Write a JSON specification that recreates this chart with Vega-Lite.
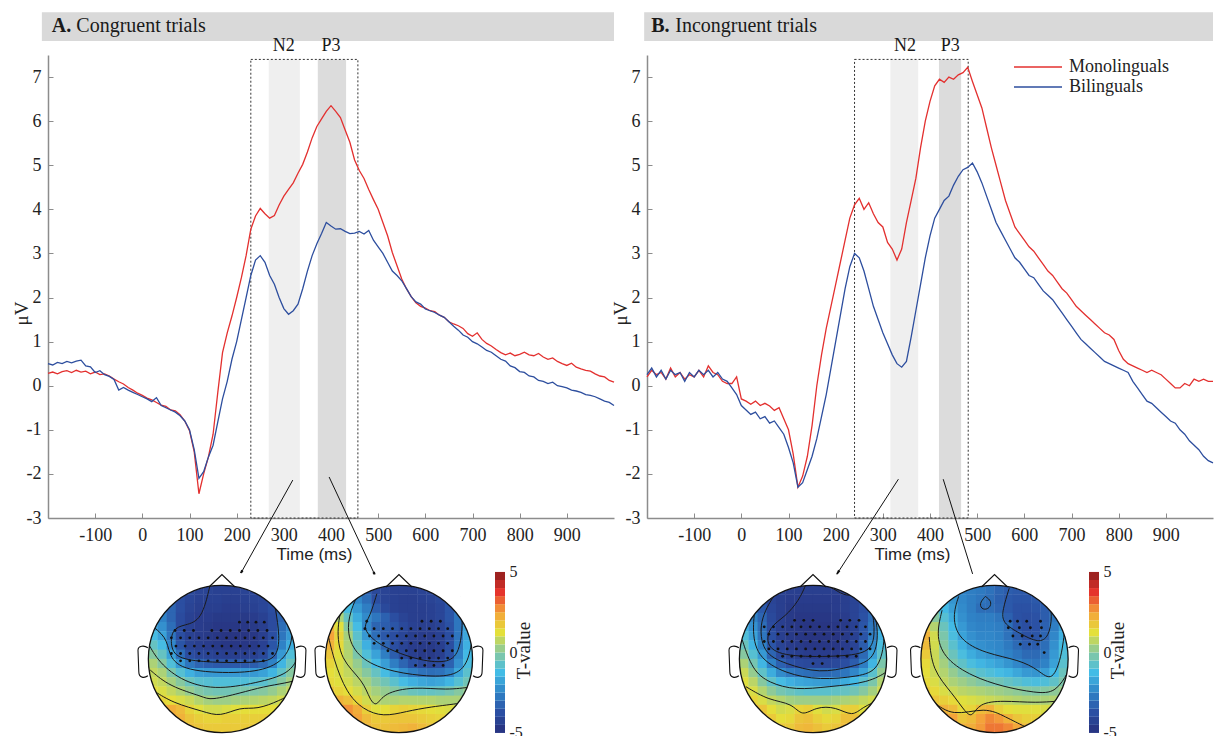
{
"$schema": "https://vega.github.io/schema/vega-lite/v6.json",
"background": "white",
"padding": {"left": 12, "top": 12, "right": 0, "bottom": 0},
"config": {"view": {"stroke": null}, "font": "Liberation Serif", "legend": {"labelFont": "Liberation Serif"}},
"datasets": {
"erp": [
{"p":"A","g":"Monolinguals","t":[-200,-190,-180,-170,-160,-150,-140,-130,-120,-110,-100,-90,-80,-70,-60,-50,-40,-30,-20,-10,0,10,20,30,40,50,60,70,80,90,100,110,120,130,140,150,160,170,180,190,200,210,220,230,240,250,260,270,280,290,300,310,320,330,340,350,360,370,380,390,400,410,420,430,440,450,460,470,480,490,500,510,520,530,540,550,560,570,580,590,600,610,620,630,640,650,660,670,680,690,700,710,720,730,740,750,760,770,780,790,800,810,820,830,840,850,860,870,880,890,900,910,920,930,940,950,960,970,980,990,1000],
"v":[0.28,0.31,0.27,0.32,0.34,0.30,0.35,0.31,0.33,0.27,0.31,0.25,0.27,0.22,0.15,0.09,0.04,-0.04,-0.10,-0.17,-0.22,-0.28,-0.32,-0.38,-0.44,-0.47,-0.55,-0.57,-0.66,-0.80,-1.02,-1.50,-2.45,-2.00,-1.62,-1.10,-0.15,0.75,1.20,1.58,2.00,2.45,2.95,3.55,3.85,4.02,3.90,3.80,3.86,4.10,4.30,4.45,4.60,4.82,5.02,5.30,5.62,5.88,6.05,6.22,6.35,6.22,6.08,5.80,5.52,5.12,4.88,4.70,4.45,4.22,4.00,3.70,3.40,3.02,2.72,2.42,2.20,2.02,1.88,1.80,1.76,1.70,1.68,1.60,1.55,1.45,1.40,1.36,1.30,1.18,1.12,1.20,1.05,0.96,0.90,0.82,0.75,0.70,0.74,0.68,0.71,0.76,0.70,0.68,0.73,0.65,0.60,0.63,0.55,0.50,0.46,0.51,0.42,0.38,0.35,0.33,0.27,0.22,0.20,0.12,0.08]},
{"p":"A","g":"Bilinguals","t":[-200,-190,-180,-170,-160,-150,-140,-130,-120,-110,-100,-90,-80,-70,-60,-50,-40,-30,-20,-10,0,10,20,30,40,50,60,70,80,90,100,110,120,130,140,150,160,170,180,190,200,210,220,230,240,250,260,270,280,290,300,310,320,330,340,350,360,370,380,390,400,410,420,430,440,450,460,470,480,490,500,510,520,530,540,550,560,570,580,590,600,610,620,630,640,650,660,670,680,690,700,710,720,730,740,750,760,770,780,790,800,810,820,830,840,850,860,870,880,890,900,910,920,930,940,950,960,970,980,990,1000],
"v":[0.50,0.47,0.53,0.50,0.55,0.52,0.56,0.58,0.45,0.43,0.30,0.34,0.25,0.21,0.14,-0.10,-0.04,-0.10,-0.15,-0.20,-0.25,-0.30,-0.36,-0.27,-0.45,-0.50,-0.55,-0.60,-0.68,-0.80,-1.00,-1.45,-2.10,-1.95,-1.62,-1.35,-0.82,-0.30,0.10,0.60,1.00,1.50,2.00,2.50,2.85,2.95,2.80,2.50,2.30,2.00,1.75,1.62,1.70,1.85,2.20,2.60,2.95,3.22,3.45,3.70,3.62,3.55,3.56,3.50,3.45,3.46,3.50,3.44,3.52,3.30,3.15,3.00,2.80,2.60,2.50,2.38,2.20,2.02,1.90,1.85,1.74,1.70,1.66,1.60,1.55,1.45,1.35,1.26,1.15,1.10,1.00,0.95,0.88,0.80,0.76,0.68,0.60,0.56,0.45,0.41,0.32,0.30,0.22,0.20,0.12,0.10,0.05,0.08,0.00,-0.02,-0.05,-0.10,-0.12,-0.15,-0.20,-0.22,-0.25,-0.30,-0.35,-0.38,-0.45]},
{"p":"B","g":"Monolinguals","t":[-200,-190,-180,-170,-160,-150,-140,-130,-120,-110,-100,-90,-80,-70,-60,-50,-40,-30,-20,-10,0,10,20,30,40,50,60,70,80,90,100,110,120,130,140,150,160,170,180,190,200,210,220,230,240,250,260,270,280,290,300,310,320,330,340,350,360,370,380,390,400,410,420,430,440,450,460,470,480,490,500,510,520,530,540,550,560,570,580,590,600,610,620,630,640,650,660,670,680,690,700,710,720,730,740,750,760,770,780,790,800,810,820,830,840,850,860,870,880,890,900,910,920,930,940,950,960,970,980,990,1000],
"v":[0.20,0.35,0.25,0.30,0.15,0.40,0.20,0.30,0.15,0.25,0.20,0.35,0.20,0.45,0.30,0.25,0.10,0.05,0.05,0.20,-0.30,-0.35,-0.42,-0.35,-0.45,-0.40,-0.46,-0.56,-0.50,-0.75,-1.00,-1.55,-2.30,-2.05,-1.60,-0.90,0.00,0.70,1.30,1.80,2.30,2.80,3.30,3.80,4.10,4.25,4.00,4.15,3.90,3.70,3.60,3.25,3.10,2.85,3.10,3.70,4.20,4.70,5.40,6.00,6.45,6.80,6.95,6.88,7.00,6.95,7.05,7.10,7.22,6.90,6.60,6.30,5.85,5.40,5.00,4.60,4.20,3.90,3.60,3.45,3.30,3.15,3.05,2.90,2.75,2.60,2.50,2.35,2.20,2.10,1.95,1.80,1.70,1.60,1.50,1.40,1.30,1.20,1.15,1.05,0.80,0.60,0.50,0.45,0.40,0.35,0.30,0.35,0.30,0.25,0.15,0.05,-0.05,-0.05,0.05,0.00,0.15,0.10,0.15,0.10,0.10]},
{"p":"B","g":"Bilinguals","t":[-200,-190,-180,-170,-160,-150,-140,-130,-120,-110,-100,-90,-80,-70,-60,-50,-40,-30,-20,-10,0,10,20,30,40,50,60,70,80,90,100,110,120,130,140,150,160,170,180,190,200,210,220,230,240,250,260,270,280,290,300,310,320,330,340,350,360,370,380,390,400,410,420,430,440,450,460,470,480,490,500,510,520,530,540,550,560,570,580,590,600,610,620,630,640,650,660,670,680,690,700,710,720,730,740,750,760,770,780,790,800,810,820,830,840,850,860,870,880,890,900,910,920,930,940,950,960,970,980,990,1000],
"v":[0.25,0.40,0.20,0.35,0.15,0.35,0.25,0.30,0.10,0.30,0.20,0.35,0.25,0.35,0.20,0.30,0.15,0.10,-0.05,-0.20,-0.45,-0.55,-0.65,-0.60,-0.75,-0.70,-0.85,-0.80,-0.95,-1.10,-1.40,-1.75,-2.30,-2.20,-1.90,-1.60,-1.20,-0.70,-0.20,0.40,1.00,1.60,2.20,2.70,3.00,2.90,2.60,2.20,1.80,1.50,1.20,0.95,0.70,0.50,0.42,0.55,1.10,1.70,2.30,2.90,3.40,3.80,4.00,4.20,4.30,4.55,4.75,4.90,4.95,5.05,4.85,4.60,4.30,4.00,3.70,3.50,3.30,3.10,2.90,2.80,2.65,2.50,2.45,2.30,2.15,2.05,1.95,1.80,1.65,1.50,1.35,1.20,1.05,0.95,0.85,0.75,0.65,0.55,0.50,0.45,0.40,0.35,0.30,0.10,-0.05,-0.20,-0.35,-0.40,-0.50,-0.60,-0.70,-0.80,-0.85,-1.00,-1.10,-1.25,-1.35,-1.45,-1.60,-1.70,-1.75]}
],
"win": [
{"p":"A","c":"N2","t1":268,"t2":334,"mid":300},
{"p":"A","c":"P3","t1":372,"t2":432,"mid":400},
{"p":"B","c":"N2","t1":316,"t2":375,"mid":347},
{"p":"B","c":"P3","t1":419,"t2":466,"mid":443}
],
"box": [
{"p":"A","t1":230,"t2":457},
{"p":"B","t1":240,"t2":481}
],
"arrows": [
{"p":"A","id":1,"t0":319,"v0":-2.14,"t1":209,"v1":-4.25},
{"p":"A","id":2,"t0":396,"v0":-2.07,"t1":493,"v1":-4.29},
{"p":"B","id":1,"t0":333,"v0":-2.12,"t1":204,"v1":-4.25},
{"p":"B","id":2,"t0":428,"v0":-2.12,"t1":493,"v1":-4.36}
],
"topo": [
{"m":"A1","r":1,"v":[-3.5,-3.5,-3.5,-3.8,-4,-4.2,-4.2,-4.3,-4.3,-4.3,-4.2,-4.2,-4,-3.8,-3.6,-3.5]},
{"m":"A1","r":2,"v":[-3,-3.2,-3.4,-3.8,-4.1,-4.3,-4.3,-4.3,-4.4,-4.4,-4.3,-4.2,-4.1,-3.8,-3.4,-3.2]},
{"m":"A1","r":3,"v":[-2.6,-2.8,-3.2,-3.8,-4.2,-4.4,-4.4,-4.4,-4.5,-4.5,-4.4,-4.3,-4.1,-3.8,-3.2,-2.9]},
{"m":"A1","r":4,"v":[-2.2,-2.5,-3.2,-3.9,-4.3,-4.5,-4.5,-4.6,-4.6,-4.6,-4.6,-4.5,-4.3,-3.9,-3.2,-2.6]},
{"m":"A1","r":5,"v":[-1.8,-2.2,-3.0,-3.9,-4.3,-4.5,-4.6,-4.7,-4.7,-4.7,-4.7,-4.6,-4.4,-3.9,-3.0,-2.4]},
{"m":"A1","r":6,"v":[-1.2,-1.8,-2.8,-3.8,-4.3,-4.5,-4.6,-4.7,-4.8,-4.8,-4.8,-4.7,-4.4,-3.8,-2.8,-2.0]},
{"m":"A1","r":7,"v":[-0.6,-1.2,-2.4,-3.6,-4.2,-4.4,-4.5,-4.6,-4.7,-4.7,-4.7,-4.6,-4.3,-3.6,-2.5,-1.6]},
{"m":"A1","r":8,"v":[0.0,-0.6,-1.8,-3.0,-3.8,-4.1,-4.2,-4.3,-4.4,-4.4,-4.4,-4.3,-4.0,-3.2,-2.0,-1.0]},
{"m":"A1","r":9,"v":[0.5,0.0,-1.0,-2.0,-2.8,-3.2,-3.4,-3.5,-3.5,-3.5,-3.5,-3.4,-3.1,-2.5,-1.4,-0.5]},
{"m":"A1","r":10,"v":[0.8,0.5,-0.2,-0.9,-1.5,-1.9,-2.0,-2.0,-2.0,-2.0,-2.0,-2.0,-1.8,-1.4,-0.7,0.0]},
{"m":"A1","r":11,"v":[1.0,0.8,0.4,0.0,-0.5,-0.8,-0.9,-1.0,-1.0,-1.0,-1.0,-0.9,-0.8,-0.5,0.0,0.4]},
{"m":"A1","r":12,"v":[1.3,1.1,0.8,0.5,0.2,-0.1,-0.3,-0.4,-0.4,-0.3,-0.2,-0.1,0.0,0.2,0.5,0.8]},
{"m":"A1","r":13,"v":[1.6,1.5,1.3,1.1,0.9,0.6,0.4,0.3,0.3,0.4,0.5,0.6,0.7,0.8,1.0,1.2]},
{"m":"A1","r":14,"v":[2.0,2.2,2.3,2.0,1.5,1.2,1.0,1.0,1.1,1.2,1.3,1.3,1.3,1.3,1.4,1.5]},
{"m":"A1","r":15,"v":[2.1,2.3,2.4,2.2,1.8,1.6,1.5,1.5,1.6,1.6,1.6,1.6,1.6,1.6,1.6,1.6]},
{"m":"A1","r":16,"v":[2.0,2.2,2.2,2.1,1.9,1.8,1.7,1.7,1.7,1.7,1.7,1.7,1.7,1.7,1.7,1.7]},
{"m":"A2","r":1,"v":[-1.5,-1.8,-2.2,-2.6,-3.4,-4.0,-4.2,-4.3,-4.3,-4.3,-4.2,-4.1,-3.8,-3.4,-3.0,-2.6]},
{"m":"A2","r":2,"v":[-0.5,-1.0,-1.8,-2.4,-3.0,-3.8,-4.2,-4.3,-4.4,-4.4,-4.3,-4.2,-4.0,-3.6,-3.0,-2.4]},
{"m":"A2","r":3,"v":[0.5,-0.2,-1.2,-2.0,-2.6,-3.4,-4.0,-4.3,-4.4,-4.4,-4.4,-4.3,-4.1,-3.6,-2.9,-2.2]},
{"m":"A2","r":4,"v":[1.5,0.5,-0.6,-1.6,-2.3,-2.8,-3.3,-3.8,-4.2,-4.4,-4.4,-4.3,-4.1,-3.6,-2.8,-2.0]},
{"m":"A2","r":5,"v":[2.2,1.2,0.0,-1.2,-2.4,-3.2,-3.4,-3.6,-4.0,-4.3,-4.4,-4.4,-4.2,-3.7,-2.8,-1.8]},
{"m":"A2","r":6,"v":[2.5,1.5,0.4,-0.8,-2.0,-3.0,-3.5,-3.8,-4.1,-4.4,-4.5,-4.5,-4.3,-3.8,-2.8,-1.7]},
{"m":"A2","r":7,"v":[2.2,1.4,0.5,-0.5,-1.5,-2.4,-3.2,-3.8,-4.2,-4.5,-4.6,-4.6,-4.4,-3.8,-2.7,-1.5]},
{"m":"A2","r":8,"v":[1.8,1.2,0.6,-0.2,-1.0,-1.8,-2.6,-3.4,-4.0,-4.4,-4.6,-4.6,-4.4,-3.7,-2.5,-1.3]},
{"m":"A2","r":9,"v":[1.5,1.1,0.7,0.2,-0.5,-1.2,-1.9,-2.6,-3.2,-3.7,-4.0,-4.1,-3.9,-3.3,-2.2,-1.1]},
{"m":"A2","r":10,"v":[1.3,1.1,0.8,0.4,0.0,-0.6,-1.2,-1.7,-2.2,-2.6,-2.9,-3.0,-2.9,-2.5,-1.7,-0.8]},
{"m":"A2","r":11,"v":[1.4,1.2,1.0,0.7,0.4,0.0,-0.4,-0.8,-1.2,-1.5,-1.7,-1.8,-1.7,-1.4,-0.9,-0.4]},
{"m":"A2","r":12,"v":[1.8,1.5,1.3,1.0,0.7,0.4,0.2,0.0,-0.3,-0.5,-0.6,-0.6,-0.5,-0.3,0.0,0.2]},
{"m":"A2","r":13,"v":[2.4,2.2,1.9,1.5,1.0,0.7,0.5,0.5,0.6,0.6,0.6,0.6,0.5,0.5,0.5,0.6]},
{"m":"A2","r":14,"v":[2.6,2.8,2.7,2.3,1.6,1.2,1.3,1.5,1.6,1.5,1.4,1.3,1.2,1.1,1.0,1.0]},
{"m":"A2","r":15,"v":[2.4,2.6,2.7,2.5,2.0,1.7,1.7,1.8,1.8,1.8,1.7,1.6,1.5,1.4,1.3,1.3]},
{"m":"A2","r":16,"v":[2.2,2.4,2.5,2.4,2.1,1.9,1.9,2.0,2.1,2.2,2.0,1.8,1.7,1.6,1.5,1.5]},
{"m":"B1","r":1,"v":[-3.5,-3.8,-4.0,-4.2,-4.3,-4.4,-4.4,-4.4,-4.4,-4.4,-4.4,-4.3,-4.2,-4.0,-3.8,-3.5]},
{"m":"B1","r":2,"v":[-3.0,-3.4,-3.8,-4.2,-4.4,-4.5,-4.5,-4.5,-4.5,-4.5,-4.5,-4.4,-4.2,-3.9,-3.5,-3.0]},
{"m":"B1","r":3,"v":[-2.5,-2.9,-3.5,-4.1,-4.4,-4.6,-4.6,-4.6,-4.6,-4.6,-4.5,-4.4,-4.2,-3.8,-3.2,-2.6]},
{"m":"B1","r":4,"v":[-2.0,-2.5,-3.2,-4.0,-4.4,-4.6,-4.7,-4.7,-4.7,-4.7,-4.6,-4.5,-4.2,-3.7,-3.0,-2.2]},
{"m":"B1","r":5,"v":[-1.5,-2.2,-3.0,-3.9,-4.4,-4.6,-4.7,-4.8,-4.8,-4.8,-4.7,-4.6,-4.3,-3.6,-2.8,-1.8]},
{"m":"B1","r":6,"v":[-1.0,-1.8,-2.8,-3.8,-4.4,-4.6,-4.7,-4.8,-4.8,-4.8,-4.8,-4.6,-4.3,-3.6,-2.6,-1.5]},
{"m":"B1","r":7,"v":[-0.5,-1.4,-2.5,-3.6,-4.2,-4.5,-4.6,-4.7,-4.7,-4.7,-4.7,-4.5,-4.2,-3.4,-2.3,-1.1]},
{"m":"B1","r":8,"v":[0.0,-0.9,-2.0,-3.2,-3.9,-4.2,-4.4,-4.5,-4.5,-4.5,-4.5,-4.3,-3.9,-3.1,-1.9,-0.7]},
{"m":"B1","r":9,"v":[0.5,-0.3,-1.4,-2.5,-3.3,-3.7,-3.9,-4.0,-4.1,-4.1,-4.0,-3.8,-3.4,-2.6,-1.4,-0.2]},
{"m":"B1","r":10,"v":[0.9,0.2,-0.7,-1.6,-2.3,-2.7,-2.9,-3.0,-3.1,-3.1,-3.0,-2.8,-2.4,-1.8,-0.8,0.2]},
{"m":"B1","r":11,"v":[1.2,0.7,0.0,-0.7,-1.2,-1.5,-1.7,-1.8,-1.9,-1.9,-1.8,-1.6,-1.3,-0.8,-0.2,0.6]},
{"m":"B1","r":12,"v":[1.5,1.1,0.6,0.1,-0.3,-0.5,-0.7,-0.8,-0.8,-0.8,-0.7,-0.6,-0.4,0.0,0.4,1.0]},
{"m":"B1","r":13,"v":[1.8,1.5,1.1,0.8,0.6,0.4,0.3,0.3,0.3,0.3,0.4,0.5,0.6,0.8,1.0,1.3]},
{"m":"B1","r":14,"v":[2.2,2.1,1.8,1.3,1.0,1.1,1.5,1.6,1.2,1.0,1.1,1.6,1.6,1.2,1.3,1.5]},
{"m":"B1","r":15,"v":[2.4,2.4,2.2,1.7,1.3,1.4,1.8,1.9,1.6,1.4,1.5,1.9,1.9,1.6,1.6,1.7]},
{"m":"B1","r":16,"v":[2.3,2.4,2.3,2.0,1.7,1.7,2.0,2.1,1.9,1.7,1.8,2.0,2.0,1.8,1.8,1.8]},
{"m":"B2","r":1,"v":[-1.5,-1.7,-2.0,-2.3,-2.5,-2.6,-2.7,-2.9,-3.2,-3.4,-3.5,-3.5,-3.4,-3.2,-2.9,-2.5]},
{"m":"B2","r":2,"v":[-0.8,-1.2,-1.7,-2.1,-2.4,-2.6,-2.8,-3.0,-3.3,-3.5,-3.6,-3.6,-3.5,-3.3,-2.9,-2.4]},
{"m":"B2","r":3,"v":[0.0,-0.6,-1.3,-1.9,-2.3,-2.6,-3.0,-3.0,-3.2,-3.5,-3.7,-3.7,-3.6,-3.4,-2.9,-2.3]},
{"m":"B2","r":4,"v":[1.0,0.0,-0.9,-1.6,-2.2,-2.5,-2.6,-2.6,-2.8,-3.3,-3.7,-3.8,-3.7,-3.4,-2.8,-2.1]},
{"m":"B2","r":5,"v":[1.8,0.6,-0.5,-1.3,-2.0,-2.4,-2.5,-2.5,-2.6,-3.0,-3.6,-3.8,-3.7,-3.3,-2.6,-1.8]},
{"m":"B2","r":6,"v":[2.2,1.0,-0.2,-1.1,-1.8,-2.2,-2.4,-2.4,-2.5,-2.9,-3.4,-3.7,-3.6,-3.2,-2.4,-1.5]},
{"m":"B2","r":7,"v":[2.0,1.0,0.0,-0.8,-1.5,-2.0,-2.2,-2.3,-2.4,-2.7,-3.1,-3.4,-3.4,-3.0,-2.2,-1.2]},
{"m":"B2","r":8,"v":[1.7,0.9,0.2,-0.5,-1.1,-1.6,-1.9,-2.1,-2.3,-2.5,-2.8,-3.1,-3.1,-2.8,-2.0,-1.0]},
{"m":"B2","r":9,"v":[1.4,0.9,0.4,-0.2,-0.7,-1.1,-1.4,-1.6,-1.8,-2.1,-2.4,-2.7,-2.8,-2.5,-1.8,-0.8]},
{"m":"B2","r":10,"v":[1.3,0.9,0.6,0.2,-0.2,-0.5,-0.8,-1.0,-1.2,-1.4,-1.7,-2.0,-2.1,-1.9,-1.3,-0.5]},
{"m":"B2","r":11,"v":[1.4,1.1,0.8,0.5,0.3,0.1,-0.1,-0.3,-0.4,-0.6,-0.8,-1.0,-1.1,-1.0,-0.7,-0.2]},
{"m":"B2","r":12,"v":[1.7,1.4,1.1,0.9,0.7,0.6,0.5,0.4,0.3,0.2,0.1,0.0,-0.1,0.0,0.1,0.3]},
{"m":"B2","r":13,"v":[2.0,1.8,1.6,1.4,1.2,1.1,1.0,0.9,0.8,0.7,0.6,0.5,0.5,0.5,0.6,0.7]},
{"m":"B2","r":14,"v":[2.4,2.3,2.2,2.0,1.4,1.5,2.0,2.2,1.6,1.3,1.2,1.2,1.2,1.1,1.1,1.1]},
{"m":"B2","r":15,"v":[2.6,2.6,2.7,2.5,1.8,2.0,2.5,2.8,2.6,2.2,1.8,1.6,1.6,1.5,1.5,1.5]},
{"m":"B2","r":16,"v":[2.6,2.7,2.8,2.7,2.2,2.3,2.6,3.0,3.0,2.8,2.4,2.0,1.9,1.8,1.7,1.7]}
],
"cont": [
{"m":"A1","k":1,"x":[7.2,6.3,4.5,3.0,2.9,4.0,8.0,12.0,14.5,14.8,14.3,14.0],"y":[0.5,4.3,4.8,5.2,7.5,8.6,8.9,8.9,8.6,6.0,3.0,1.2]},
{"m":"A1","k":2,"x":[0.5,2.5,2.7,3.9,9.4,13.7,15.9,16.3,15.5],"y":[4.6,6.1,7.9,9.7,10.1,9.7,7.9,5.0,2.5]},
{"m":"A1","k":3,"x":[0.3,1.4,3.9,7.6,12.3,15.9,16.8],"y":[6.4,8.6,10.8,11.9,11.1,10.1,8.2]},
{"m":"A1","k":4,"x":[0.7,2.8,6.5,7.2,10.5,13.0,15.5,16.6],"y":[9.7,11.5,12.6,13.0,12.2,11.5,11.1,10.8]},
{"m":"A1","k":5,"x":[1.0,3.2,6.5,8.3,10.5,12.3,14.8,16.3],"y":[11.9,13.3,14.2,14.8,13.7,14.0,13.0,12.2]},
{"m":"A2","k":1,"x":[6.1,5.35,4.6,5.35,6.8,10.4,13.7,15.1,15.5,15.1],"y":[1.4,3.9,5.0,6.1,7.2,8.6,9.0,7.9,4.3,1.7]},
{"m":"A2","k":2,"x":[4.3,3.2,2.8,3.9,6.8,11.1,14.8,16.2,16.6],"y":[1.0,3.2,5.7,8.2,9.7,10.4,10.4,8.6,5.0]},
{"m":"A2","k":3,"x":[2.5,1.7,2.1,4.6,5.35,6.1,6.8,10.1,13.7,16.6],"y":[2.1,5.0,8.6,10.8,13.0,13.7,12.2,11.5,11.9,11.5]},
{"m":"A2","k":4,"x":[0.6,1.4,2.8,4.6,6.8,9.3,11.9,15.5,16.2],"y":[5.0,8.6,12.2,14.0,14.8,14.2,13.7,13.3,13.0]},
{"m":"A2","k":5,"x":[1.0,3.9,5.35],"y":[13.0,15.5,16.2]},
{"m":"B1","k":1,"x":[7.7,7.0,5.5,3.7,3.35,5.5,11.0,14.6,15.3,14.95,13.5,12.05,11.0,9.9],"y":[0.46,2.1,3.9,5.0,7.2,8.25,8.25,7.9,6.1,2.45,1.4,1.7,1.0,0.46]},
{"m":"B1","k":2,"x":[4.4,2.6,3.0,5.5,9.2,12.8,15.3,15.7,14.6],"y":[1.4,4.3,7.9,9.0,10.1,9.3,8.6,5.0,1.7]},
{"m":"B1","k":3,"x":[2.3,1.9,2.3,5.5,9.2,13.5,15.7,16.4,16.0],"y":[2.45,5.0,8.25,10.1,10.8,10.4,9.7,6.1,3.2]},
{"m":"B1","k":4,"x":[0.8,1.9,3.7,6.6,10.2,14.6,16.8],"y":[6.4,9.7,11.1,11.9,11.5,11.1,9.7]},
{"m":"B1","k":5,"x":[1.2,3.7,6.25,7.3,8.8,11.0,12.8,13.9,15.7,16.4],"y":[11.5,13.0,13.3,14.8,13.7,13.7,14.8,13.7,13.0,12.2]},
{"m":"B2","k":0,"x":[7.5,8.2,8.0,7.2,6.8,7.5],"y":[1.7,2.2,3.0,3.2,2.5,1.7]},
{"m":"B2","k":1,"x":[10.1,9.35,9.35,11.2,13.3,14.4,14.8,14.4],"y":[0.8,3.2,4.6,5.7,6.8,6.1,3.9,1.7]},
{"m":"B2","k":2,"x":[4.6,3.9,4.6,7.5,11.2,13.3,14.8,15.9,16.2],"y":[1.7,3.9,6.4,7.9,8.6,9.7,11.1,7.9,4.3]},
{"m":"B2","k":3,"x":[2.8,2.1,3.2,6.1,9.35,13.0,15.2,16.6],"y":[3.2,6.1,8.6,10.4,11.5,12.2,12.2,9.7]},
{"m":"B2","k":4,"x":[1.4,1.7,3.9,5.4,6.1,6.8,9.35,13.0,16.2],"y":[6.1,9.7,12.2,14.4,14.8,13.3,13.0,13.3,13.0]},
{"m":"B2","k":5,"x":[1.7,3.9,7.5,9.7,11.9],"y":[13.0,14.8,13.7,14.8,15.9]}
],
"dots": [
{"m":"A1","y":4.5,"x":[10.4,11.3,12.2,13.1]},
{"m":"A1","y":5.4,"x":[3.4,4.4,5.4,7.4,8.4,9.4,10.4,11.4,12.4,13.4]},
{"m":"A1","y":6.2,"x":[3.0,4.0,5.0,6.0,7.0,8.0,9.0,10.0,11.0,12.0,13.0,14.0]},
{"m":"A1","y":7.1,"x":[3.5,4.5,5.5,6.5,7.5,8.5,9.5,10.5,11.5,12.5,13.5]},
{"m":"A1","y":7.9,"x":[3.0,4.0,5.0,6.0,7.0,8.0,9.0,10.0,11.0,12.0,13.0,14.0]},
{"m":"A1","y":8.7,"x":[4.0,5.0,6.0,7.0,8.0,9.0,10.0,11.0,12.0,13.0]},
{"m":"A2","y":4.4,"x":[5.0,11.0,12.0,13.0]},
{"m":"A2","y":5.2,"x":[4.8,5.8,6.8,7.8,8.8,9.8,10.8,11.8,12.8,13.8]},
{"m":"A2","y":6.0,"x":[5.3,6.3,7.3,8.3,9.3,10.3,11.3,12.3,13.3,14.3]},
{"m":"A2","y":6.8,"x":[5.8,6.8,7.8,8.8,9.8,10.8,11.8,12.8,13.8]},
{"m":"A2","y":7.6,"x":[7.3,8.3,9.3,10.3,11.3,12.3,13.3,14.3]},
{"m":"A2","y":8.4,"x":[8.8,9.8,10.8,11.8,12.8,13.8]},
{"m":"A2","y":9.2,"x":[10.3,11.3,12.3,13.3]},
{"m":"B1","y":4.3,"x":[6.5,7.5,8.5,11.5,12.5,13.5]},
{"m":"B1","y":5.0,"x":[3.2,4.2,5.2,6.2,7.2,8.2,9.2,10.2,11.2,12.2,13.2,14.2]},
{"m":"B1","y":5.8,"x":[3.7,4.7,5.7,6.7,7.7,8.7,9.7,10.7,11.7,12.7,13.7,14.7]},
{"m":"B1","y":6.6,"x":[3.2,4.2,5.2,6.2,7.2,8.2,9.2,10.2,11.2,12.2,13.2,14.2]},
{"m":"B1","y":7.4,"x":[3.7,4.7,5.7,6.7,7.7,8.7,9.7,10.7,11.7,12.7,13.7,14.7]},
{"m":"B1","y":8.2,"x":[5.2,6.2,7.2,8.2,9.2,10.2,11.2,12.2,13.2]},
{"m":"B1","y":9.0,"x":[8.5,9.5]},
{"m":"B2","y":4.4,"x":[10.2,11.0,12.0,13.5]},
{"m":"B2","y":5.1,"x":[10.0,11.2,12.4,13.6]},
{"m":"B2","y":6.0,"x":[10.5,11.5,12.6,13.5]},
{"m":"B2","y":6.9,"x":[11.3,12.3,13.2]},
{"m":"B2","y":7.8,"x":[13.9]}
],
"cbar": [
{"lo":-5,"hi":-4.5,"c":-4.75},{"lo":-4.5,"hi":-4,"c":-4.25},{"lo":-4,"hi":-3.5,"c":-3.75},{"lo":-3.5,"hi":-3,"c":-3.25},{"lo":-3,"hi":-2.5,"c":-2.75},
{"lo":-2.5,"hi":-2,"c":-2.25},{"lo":-2,"hi":-1.5,"c":-1.75},{"lo":-1.5,"hi":-1,"c":-1.25},{"lo":-1,"hi":-0.5,"c":-0.75},{"lo":-0.5,"hi":0,"c":-0.25},
{"lo":0,"hi":0.5,"c":0.25},{"lo":0.5,"hi":1,"c":0.75},{"lo":1,"hi":1.5,"c":1.25},{"lo":1.5,"hi":2,"c":1.75},{"lo":2,"hi":2.5,"c":2.25},
{"lo":2.5,"hi":3,"c":2.75},{"lo":3,"hi":3.5,"c":3.25},{"lo":3.5,"hi":4,"c":3.75},{"lo":4,"hi":4.5,"c":4.25},{"lo":4.5,"hi":5,"c":4.75}
]
},
"hconcat": [
{
"vconcat": [
{
"width": 566, "height": 463,
"layer": [
{"data": {"values": [{"lab": "A."}]}, "mark": {"type": "rect", "fill": "#d9d9d9"},
 "encoding": {"x": {"datum": -213, "type": "quantitative", "scale": {"domain": [-200, 1000], "nice": false, "zero": false}}, "x2": {"datum": 1000},
  "y": {"datum": 8.47, "type": "quantitative", "scale": {"domain": [-3, 7.5], "nice": false, "zero": false}}, "y2": {"datum": 7.82}}},
{"data": {"values": [{"lab": "A."}]}, "mark": {"type": "text", "align": "left", "baseline": "middle", "font": "Liberation Serif", "fontSize": 20, "fontWeight": "bold", "color": "#1a1a1a"},
 "encoding": {"x": {"datum": -192, "type": "quantitative"}, "y": {"datum": 8.15, "type": "quantitative"}, "text": {"field": "lab"}}},
{"data": {"values": [{"txt": "Congruent trials"}]}, "mark": {"type": "text", "align": "left", "baseline": "middle", "font": "Liberation Serif", "fontSize": 20, "color": "#1a1a1a"},
 "encoding": {"x": {"datum": -140, "type": "quantitative"}, "y": {"datum": 8.15, "type": "quantitative"}, "text": {"field": "txt"}}},
{"data": {"name": "win"}, "transform": [{"filter": "datum.p=='A'"}], "mark": {"type": "rect"},
 "encoding": {"x": {"field": "t1", "type": "quantitative"}, "x2": {"field": "t2"}, "y": {"datum": 7.4, "type": "quantitative"}, "y2": {"datum": -3},
  "fill": {"field": "c", "type": "nominal", "scale": {"domain": ["N2", "P3"], "range": ["#efefef", "#dcdcdc"]}, "legend": null}}},
{"data": {"name": "box"}, "transform": [{"filter": "datum.p=='A'"}], "mark": {"type": "rect", "fillOpacity": 0, "stroke": "#333333", "strokeDash": [2, 2], "strokeWidth": 1},
 "encoding": {"x": {"field": "t1", "type": "quantitative"}, "x2": {"field": "t2"}, "y": {"datum": 7.4, "type": "quantitative"}, "y2": {"datum": -3}}},
{"data": {"name": "win"}, "transform": [{"filter": "datum.p=='A'"}], "mark": {"type": "text", "baseline": "middle", "font": "Liberation Serif", "fontSize": 18, "color": "#1a1a1a"},
 "encoding": {"x": {"field": "mid", "type": "quantitative"}, "y": {"datum": 7.7, "type": "quantitative"}, "text": {"field": "c"}}},
{"data": {"name": "erp"}, "transform": [{"filter": "datum.p=='A'"}, {"flatten": ["t", "v"]}], "mark": {"type": "line", "strokeWidth": 1.3},
 "encoding": {
  "x": {"field": "t", "type": "quantitative", "axis": {"values": [-100, 0, 100, 200, 300, 400, 500, 600, 700, 800, 900], "labelExpr": "'' + datum.value", "title": "Time (ms)", "titleFont": "Liberation Sans", "titleFontSize": 17, "titleFontWeight": "normal", "titleColor": "#222222", "titleX": 266, "titleY": 36, "titleBaseline": "middle", "labelFont": "Liberation Serif", "labelFontSize": 18, "labelColor": "#222222", "labelPadding": 13, "tickSize": -5, "tickColor": "#8c8c8c", "domainColor": "#8c8c8c", "domainWidth": 1.5, "grid": false, "labelFlush": false, "labelOverlap": false}},
  "y": {"field": "v", "type": "quantitative", "axis": {"values": [-3, -2, -1, 0, 1, 2, 3, 4, 5, 6, 7], "labelExpr": "'' + datum.value", "title": "μV", "titleFont": "Liberation Serif", "titleFontSize": 19, "titleFontWeight": "normal", "titleColor": "#222222", "titleAngle": 270, "titleX": -17, "titleY": 258, "titleBaseline": "bottom", "titleAlign": "center", "labelFont": "Liberation Serif", "labelFontSize": 18, "labelColor": "#222222", "labelPadding": 12, "tickSize": -5, "tickColor": "#8c8c8c", "domainColor": "#8c8c8c", "domainWidth": 1.5, "grid": false, "labelFlush": false, "labelOverlap": false}},
  "stroke": {"field": "g", "type": "nominal", "scale": {"domain": ["Monolinguals", "Bilinguals"], "range": ["#e3302f", "#2d4e9e"]}, "legend": null}}},
{"data": {"name": "arrows"}, "transform": [{"filter": "datum.p=='A'"}], "mark": {"type": "rule", "color": "#111111", "strokeWidth": 1},
 "encoding": {"x": {"field": "t0", "type": "quantitative"}, "y": {"field": "v0", "type": "quantitative"}, "x2": {"field": "t1"}, "y2": {"field": "v1"}}},
{"data": {"name": "arrows"}, "transform": [{"filter": "datum.p=='A' && datum.id==1"}], "mark": {"type": "point", "shape": "wedge", "size": 110, "filled": true, "color": "#111111", "opacity": 1, "angle": 209},
 "encoding": {"x": {"field": "t1", "type": "quantitative"}, "y": {"field": "v1", "type": "quantitative"}}},
{"data": {"name": "arrows"}, "transform": [{"filter": "datum.p=='A' && datum.id==2"}], "mark": {"type": "point", "shape": "wedge", "size": 110, "filled": true, "color": "#111111", "opacity": 1, "angle": 155},
 "encoding": {"x": {"field": "t1", "type": "quantitative"}, "y": {"field": "v1", "type": "quantitative"}}}
]
},
{
"hconcat": [
{"width": 262, "height": 208,
 "layer": [
  {"data": {"name": "topo"}, "transform": [{"filter": "datum.m=='A1'"}, {"flatten": ["v"]}, {"window": [{"op": "row_number", "as": "c"}], "groupby": ["r"]}, {"filter": "(datum.c-8.5)*(datum.c-8.5)+(datum.r-8.5)*(datum.r-8.5)<=76"}],
   "mark": {"type": "square", "size": 92, "opacity": 1, "strokeWidth": 0},
   "encoding": {"x": {"field": "c", "type": "quantitative", "scale": {"domain": [-10.41, 18.07], "nice": false, "zero": false}, "axis": null},
    "y": {"field": "r", "type": "quantitative", "scale": {"domain": [-5.74, 16.87], "reverse": true, "nice": false, "zero": false}, "axis": null},
    "color": {"field": "v", "type": "quantitative", "scale": {"domain": [-5, -3.75, -2.5, -1.25, 0, 1.25, 2.5, 3.75, 5], "range": ["#27307c", "#2b4fa3", "#2f82c6", "#43bce6", "#86c8a0", "#e4e03a", "#f4a33a", "#e5342c", "#8c1d1d"], "interpolate": "rgb"}, "legend": null}}},
  {"data": {"name": "cont"}, "transform": [{"filter": "datum.m=='A1'"}, {"flatten": ["x", "y"]}, {"window": [{"op": "row_number", "as": "i"}], "groupby": ["k"]}], "mark": {"type": "line", "interpolate": "basis", "color": "#1a1a1a", "strokeWidth": 1},
   "encoding": {"x": {"field": "x", "type": "quantitative"}, "y": {"field": "y", "type": "quantitative"}, "detail": {"field": "k", "type": "nominal"}, "order": {"field": "i", "type": "quantitative"}}},
  {"data": {"name": "dots"}, "transform": [{"filter": "datum.m=='A1'"}, {"flatten": ["x"]}], "mark": {"type": "circle", "size": 8, "color": "#111111", "opacity": 1},
   "encoding": {"x": {"field": "x", "type": "quantitative"}, "y": {"field": "y", "type": "quantitative"}}},
  {"data": {"values": [{}]}, "mark": {"type": "point", "shape": "circle", "size": 26115, "filled": false, "stroke": "#ffffff", "strokeWidth": 14.4, "opacity": 1},
   "encoding": {"x": {"datum": 8.5, "type": "quantitative"}, "y": {"datum": 8.5, "type": "quantitative"}}},
  {"data": {"values": [{}]}, "mark": {"type": "point", "shape": "circle", "size": 21668, "filled": false, "stroke": "#111111", "strokeWidth": 1.3, "opacity": 1},
   "encoding": {"x": {"datum": 8.5, "type": "quantitative"}, "y": {"datum": 8.5, "type": "quantitative"}}},
  {"data": {"values": [{}]}, "mark": {"type": "point", "shape": "M-1,0.5L0,-0.45L1,0.5", "size": 676, "filled": false, "stroke": "#111111", "strokeWidth": 1.2, "opacity": 1},
   "encoding": {"x": {"datum": 8.5, "type": "quantitative"}, "y": {"datum": -0.03, "type": "quantitative"}}},
  {"data": {"values": [{}]}, "mark": {"type": "point", "shape": "M0.3,-0.85C0.1,-1,-0.3,-1,-0.3,-0.7L-0.25,0.6C-0.25,1,0.1,1,0.3,0.85", "size": 1089, "filled": false, "stroke": "#111111", "strokeWidth": 1.1, "opacity": 1},
   "encoding": {"x": {"datum": -0.09, "type": "quantitative"}, "y": {"datum": 8.8, "type": "quantitative"}}},
  {"data": {"values": [{}]}, "mark": {"type": "point", "shape": "M-0.3,-0.85C-0.1,-1,0.3,-1,0.3,-0.7L0.25,0.6C0.25,1,-0.1,1,-0.3,0.85", "size": 1089, "filled": false, "stroke": "#111111", "strokeWidth": 1.1, "opacity": 1},
   "encoding": {"x": {"datum": 17.09, "type": "quantitative"}, "y": {"datum": 8.8, "type": "quantitative"}}}
 ]},
{"width": 185, "height": 208,
 "layer": [
  {"data": {"name": "topo"}, "transform": [{"filter": "datum.m=='A2'"}, {"flatten": ["v"]}, {"window": [{"op": "row_number", "as": "c"}], "groupby": ["r"]}, {"filter": "(datum.c-8.5)*(datum.c-8.5)+(datum.r-8.5)*(datum.r-8.5)<=76"}],
   "mark": {"type": "square", "size": 92, "opacity": 1, "strokeWidth": 0},
   "encoding": {"x": {"field": "c", "type": "quantitative", "scale": {"domain": [-1.17, 18.94], "nice": false, "zero": false}, "axis": null},
    "y": {"field": "r", "type": "quantitative", "scale": {"domain": [-5.74, 16.87], "reverse": true, "nice": false, "zero": false}, "axis": null},
    "color": {"field": "v", "type": "quantitative", "scale": {"domain": [-5, -3.75, -2.5, -1.25, 0, 1.25, 2.5, 3.75, 5], "range": ["#27307c", "#2b4fa3", "#2f82c6", "#43bce6", "#86c8a0", "#e4e03a", "#f4a33a", "#e5342c", "#8c1d1d"], "interpolate": "rgb"}, "legend": null}}},
  {"data": {"name": "cont"}, "transform": [{"filter": "datum.m=='A2'"}, {"flatten": ["x", "y"]}, {"window": [{"op": "row_number", "as": "i"}], "groupby": ["k"]}], "mark": {"type": "line", "interpolate": "basis", "color": "#1a1a1a", "strokeWidth": 1},
   "encoding": {"x": {"field": "x", "type": "quantitative"}, "y": {"field": "y", "type": "quantitative"}, "detail": {"field": "k", "type": "nominal"}, "order": {"field": "i", "type": "quantitative"}}},
  {"data": {"name": "dots"}, "transform": [{"filter": "datum.m=='A2'"}, {"flatten": ["x"]}], "mark": {"type": "circle", "size": 8, "color": "#111111", "opacity": 1},
   "encoding": {"x": {"field": "x", "type": "quantitative"}, "y": {"field": "y", "type": "quantitative"}}},
  {"data": {"values": [{}]}, "mark": {"type": "point", "shape": "circle", "size": 26115, "filled": false, "stroke": "#ffffff", "strokeWidth": 14.4, "opacity": 1},
   "encoding": {"x": {"datum": 8.5, "type": "quantitative"}, "y": {"datum": 8.5, "type": "quantitative"}}},
  {"data": {"values": [{}]}, "mark": {"type": "point", "shape": "circle", "size": 21668, "filled": false, "stroke": "#111111", "strokeWidth": 1.3, "opacity": 1},
   "encoding": {"x": {"datum": 8.5, "type": "quantitative"}, "y": {"datum": 8.5, "type": "quantitative"}}},
  {"data": {"values": [{}]}, "mark": {"type": "point", "shape": "M-1,0.5L0,-0.45L1,0.5", "size": 676, "filled": false, "stroke": "#111111", "strokeWidth": 1.2, "opacity": 1},
   "encoding": {"x": {"datum": 8.5, "type": "quantitative"}, "y": {"datum": -0.03, "type": "quantitative"}}},
  {"data": {"values": [{}]}, "mark": {"type": "point", "shape": "M0.3,-0.85C0.1,-1,-0.3,-1,-0.3,-0.7L-0.25,0.6C-0.25,1,0.1,1,0.3,0.85", "size": 1089, "filled": false, "stroke": "#111111", "strokeWidth": 1.1, "opacity": 1},
   "encoding": {"x": {"datum": -0.09, "type": "quantitative"}, "y": {"datum": 8.8, "type": "quantitative"}}},
  {"data": {"values": [{}]}, "mark": {"type": "point", "shape": "M-0.3,-0.85C-0.1,-1,0.3,-1,0.3,-0.7L0.25,0.6C0.25,1,-0.1,1,-0.3,0.85", "size": 1089, "filled": false, "stroke": "#111111", "strokeWidth": 1.1, "opacity": 1},
   "encoding": {"x": {"datum": 17.09, "type": "quantitative"}, "y": {"datum": 8.8, "type": "quantitative"}}}
 ]},
{"width": 10, "height": 208, "data": {"name": "cbar"}, "mark": {"type": "rect"},
 "encoding": {"y": {"field": "lo", "type": "quantitative", "scale": {"domain": [-5.19, 7.73], "nice": false, "zero": false},
   "axis": {"orient": "right", "values": [-5, 0, 5], "labelExpr": "'' + datum.value", "ticks": false, "domain": false, "grid": false, "labelPadding": 4, "labelFont": "Liberation Serif", "labelFontSize": 16, "labelColor": "#222222", "title": "T-value", "titleFont": "Liberation Serif", "titleFontSize": 19, "titleFontWeight": "normal", "titleColor": "#222222", "titleAngle": 270, "titleX": 28, "titleY": 122, "titleBaseline": "bottom", "titleAlign": "center"}},
  "y2": {"field": "hi"},
  "color": {"field": "c", "type": "quantitative", "legend": null}}}
],
"spacing": 0, "bounds": "flush"
}
],
"spacing": 10, "bounds": "flush"
},
{
"vconcat": [
{
"width": 566, "height": 463,
"layer": [
{"data": {"values": [{"lab": "B."}]}, "mark": {"type": "rect", "fill": "#d9d9d9"},
 "encoding": {"x": {"datum": -206, "type": "quantitative", "scale": {"domain": [-200, 1000], "nice": false, "zero": false}}, "x2": {"datum": 1000},
  "y": {"datum": 8.47, "type": "quantitative", "scale": {"domain": [-3, 7.5], "nice": false, "zero": false}}, "y2": {"datum": 7.82}}},
{"data": {"values": [{"lab": "B."}]}, "mark": {"type": "text", "align": "left", "baseline": "middle", "font": "Liberation Serif", "fontSize": 20, "fontWeight": "bold", "color": "#1a1a1a"},
 "encoding": {"x": {"datum": -191, "type": "quantitative"}, "y": {"datum": 8.15, "type": "quantitative"}, "text": {"field": "lab"}}},
{"data": {"values": [{"txt": "Incongruent trials"}]}, "mark": {"type": "text", "align": "left", "baseline": "middle", "font": "Liberation Serif", "fontSize": 20, "color": "#1a1a1a"},
 "encoding": {"x": {"datum": -140, "type": "quantitative"}, "y": {"datum": 8.15, "type": "quantitative"}, "text": {"field": "txt"}}},
{"data": {"name": "win"}, "transform": [{"filter": "datum.p=='B'"}], "mark": {"type": "rect"},
 "encoding": {"x": {"field": "t1", "type": "quantitative"}, "x2": {"field": "t2"}, "y": {"datum": 7.4, "type": "quantitative"}, "y2": {"datum": -3},
  "fill": {"field": "c", "type": "nominal", "scale": {"domain": ["N2", "P3"], "range": ["#efefef", "#dcdcdc"]}, "legend": null}}},
{"data": {"name": "box"}, "transform": [{"filter": "datum.p=='B'"}], "mark": {"type": "rect", "fillOpacity": 0, "stroke": "#333333", "strokeDash": [2, 2], "strokeWidth": 1},
 "encoding": {"x": {"field": "t1", "type": "quantitative"}, "x2": {"field": "t2"}, "y": {"datum": 7.4, "type": "quantitative"}, "y2": {"datum": -3}}},
{"data": {"name": "win"}, "transform": [{"filter": "datum.p=='B'"}], "mark": {"type": "text", "baseline": "middle", "font": "Liberation Serif", "fontSize": 18, "color": "#1a1a1a"},
 "encoding": {"x": {"field": "mid", "type": "quantitative"}, "y": {"datum": 7.7, "type": "quantitative"}, "text": {"field": "c"}}},
{"data": {"name": "erp"}, "transform": [{"filter": "datum.p=='B'"}, {"flatten": ["t", "v"]}], "mark": {"type": "line", "strokeWidth": 1.3},
 "encoding": {
  "x": {"field": "t", "type": "quantitative", "axis": {"values": [-100, 0, 100, 200, 300, 400, 500, 600, 700, 800, 900], "labelExpr": "'' + datum.value", "title": "Time (ms)", "titleFont": "Liberation Sans", "titleFontSize": 17, "titleFontWeight": "normal", "titleColor": "#222222", "titleX": 265, "titleY": 36, "titleBaseline": "middle", "labelFont": "Liberation Serif", "labelFontSize": 18, "labelColor": "#222222", "labelPadding": 13, "tickSize": -5, "tickColor": "#8c8c8c", "domainColor": "#8c8c8c", "domainWidth": 1.5, "grid": false, "labelFlush": false, "labelOverlap": false}},
  "y": {"field": "v", "type": "quantitative", "axis": {"values": [-3, -2, -1, 0, 1, 2, 3, 4, 5, 6, 7], "labelExpr": "'' + datum.value", "title": "μV", "titleFont": "Liberation Serif", "titleFontSize": 19, "titleFontWeight": "normal", "titleColor": "#222222", "titleAngle": 270, "titleX": -17, "titleY": 258, "titleBaseline": "bottom", "titleAlign": "center", "labelFont": "Liberation Serif", "labelFontSize": 18, "labelColor": "#222222", "labelPadding": 12, "tickSize": -5, "tickColor": "#8c8c8c", "domainColor": "#8c8c8c", "domainWidth": 1.5, "grid": false, "labelFlush": false, "labelOverlap": false}},
  "stroke": {"field": "g", "type": "nominal", "scale": {"domain": ["Monolinguals", "Bilinguals"], "range": ["#e3302f", "#2d4e9e"]},
   "legend": {"orient": "none", "legendX": 380, "legendY": 1, "title": null, "symbolType": "M-2.4,0H2.4", "symbolSize": 400, "symbolStrokeWidth": 1.5, "symbolFillColor": "transparent", "labelFont": "Liberation Serif", "labelFontSize": 18, "labelColor": "#222222", "labelOffset": 20, "rowPadding": 0}}}},
{"data": {"name": "arrows"}, "transform": [{"filter": "datum.p=='B'"}], "mark": {"type": "rule", "color": "#111111", "strokeWidth": 1},
 "encoding": {"x": {"field": "t0", "type": "quantitative"}, "y": {"field": "v0", "type": "quantitative"}, "x2": {"field": "t1"}, "y2": {"field": "v1"}}},
{"data": {"name": "arrows"}, "transform": [{"filter": "datum.p=='B' && datum.id==1"}], "mark": {"type": "point", "shape": "wedge", "size": 110, "filled": true, "color": "#111111", "opacity": 1, "angle": 213},
 "encoding": {"x": {"field": "t1", "type": "quantitative"}, "y": {"field": "v1", "type": "quantitative"}}},
{"data": {"name": "arrows"}, "transform": [{"filter": "datum.p=='B' && datum.id==2"}], "mark": {"type": "point", "shape": "wedge", "size": 110, "filled": true, "color": "#111111", "opacity": 1, "angle": 163},
 "encoding": {"x": {"field": "t1", "type": "quantitative"}, "y": {"field": "v1", "type": "quantitative"}}}
]
},
{
"hconcat": [
{"width": 257, "height": 208,
 "layer": [
  {"data": {"name": "topo"}, "transform": [{"filter": "datum.m=='B1'"}, {"flatten": ["v"]}, {"window": [{"op": "row_number", "as": "c"}], "groupby": ["r"]}, {"filter": "(datum.c-8.5)*(datum.c-8.5)+(datum.r-8.5)*(datum.r-8.5)<=76"}],
   "mark": {"type": "square", "size": 92, "opacity": 1, "strokeWidth": 0},
   "encoding": {"x": {"field": "c", "type": "quantitative", "scale": {"domain": [-9.54, 18.39], "nice": false, "zero": false}, "axis": null},
    "y": {"field": "r", "type": "quantitative", "scale": {"domain": [-5.74, 16.87], "reverse": true, "nice": false, "zero": false}, "axis": null},
    "color": {"field": "v", "type": "quantitative", "scale": {"domain": [-5, -3.75, -2.5, -1.25, 0, 1.25, 2.5, 3.75, 5], "range": ["#27307c", "#2b4fa3", "#2f82c6", "#43bce6", "#86c8a0", "#e4e03a", "#f4a33a", "#e5342c", "#8c1d1d"], "interpolate": "rgb"}, "legend": null}}},
  {"data": {"name": "cont"}, "transform": [{"filter": "datum.m=='B1'"}, {"flatten": ["x", "y"]}, {"window": [{"op": "row_number", "as": "i"}], "groupby": ["k"]}], "mark": {"type": "line", "interpolate": "basis", "color": "#1a1a1a", "strokeWidth": 1},
   "encoding": {"x": {"field": "x", "type": "quantitative"}, "y": {"field": "y", "type": "quantitative"}, "detail": {"field": "k", "type": "nominal"}, "order": {"field": "i", "type": "quantitative"}}},
  {"data": {"name": "dots"}, "transform": [{"filter": "datum.m=='B1'"}, {"flatten": ["x"]}], "mark": {"type": "circle", "size": 8, "color": "#111111", "opacity": 1},
   "encoding": {"x": {"field": "x", "type": "quantitative"}, "y": {"field": "y", "type": "quantitative"}}},
  {"data": {"values": [{}]}, "mark": {"type": "point", "shape": "circle", "size": 26115, "filled": false, "stroke": "#ffffff", "strokeWidth": 14.4, "opacity": 1},
   "encoding": {"x": {"datum": 8.5, "type": "quantitative"}, "y": {"datum": 8.5, "type": "quantitative"}}},
  {"data": {"values": [{}]}, "mark": {"type": "point", "shape": "circle", "size": 21668, "filled": false, "stroke": "#111111", "strokeWidth": 1.3, "opacity": 1},
   "encoding": {"x": {"datum": 8.5, "type": "quantitative"}, "y": {"datum": 8.5, "type": "quantitative"}}},
  {"data": {"values": [{}]}, "mark": {"type": "point", "shape": "M-1,0.5L0,-0.45L1,0.5", "size": 676, "filled": false, "stroke": "#111111", "strokeWidth": 1.2, "opacity": 1},
   "encoding": {"x": {"datum": 8.5, "type": "quantitative"}, "y": {"datum": -0.03, "type": "quantitative"}}},
  {"data": {"values": [{}]}, "mark": {"type": "point", "shape": "M0.3,-0.85C0.1,-1,-0.3,-1,-0.3,-0.7L-0.25,0.6C-0.25,1,0.1,1,0.3,0.85", "size": 1089, "filled": false, "stroke": "#111111", "strokeWidth": 1.1, "opacity": 1},
   "encoding": {"x": {"datum": -0.09, "type": "quantitative"}, "y": {"datum": 8.8, "type": "quantitative"}}},
  {"data": {"values": [{}]}, "mark": {"type": "point", "shape": "M-0.3,-0.85C-0.1,-1,0.3,-1,0.3,-0.7L0.25,0.6C0.25,1,-0.1,1,-0.3,0.85", "size": 1089, "filled": false, "stroke": "#111111", "strokeWidth": 1.1, "opacity": 1},
   "encoding": {"x": {"datum": 17.09, "type": "quantitative"}, "y": {"datum": 8.8, "type": "quantitative"}}}
 ]},
{"width": 185, "height": 208,
 "layer": [
  {"data": {"name": "topo"}, "transform": [{"filter": "datum.m=='B2'"}, {"flatten": ["v"]}, {"window": [{"op": "row_number", "as": "c"}], "groupby": ["r"]}, {"filter": "(datum.c-8.5)*(datum.c-8.5)+(datum.r-8.5)*(datum.r-8.5)<=76"}],
   "mark": {"type": "square", "size": 92, "opacity": 1, "strokeWidth": 0},
   "encoding": {"x": {"field": "c", "type": "quantitative", "scale": {"domain": [-1.34, 18.77], "nice": false, "zero": false}, "axis": null},
    "y": {"field": "r", "type": "quantitative", "scale": {"domain": [-5.74, 16.87], "reverse": true, "nice": false, "zero": false}, "axis": null},
    "color": {"field": "v", "type": "quantitative", "scale": {"domain": [-5, -3.75, -2.5, -1.25, 0, 1.25, 2.5, 3.75, 5], "range": ["#27307c", "#2b4fa3", "#2f82c6", "#43bce6", "#86c8a0", "#e4e03a", "#f4a33a", "#e5342c", "#8c1d1d"], "interpolate": "rgb"}, "legend": null}}},
  {"data": {"name": "cont"}, "transform": [{"filter": "datum.m=='B2'"}, {"flatten": ["x", "y"]}, {"window": [{"op": "row_number", "as": "i"}], "groupby": ["k"]}], "mark": {"type": "line", "interpolate": "basis", "color": "#1a1a1a", "strokeWidth": 1},
   "encoding": {"x": {"field": "x", "type": "quantitative"}, "y": {"field": "y", "type": "quantitative"}, "detail": {"field": "k", "type": "nominal"}, "order": {"field": "i", "type": "quantitative"}}},
  {"data": {"name": "dots"}, "transform": [{"filter": "datum.m=='B2'"}, {"flatten": ["x"]}], "mark": {"type": "circle", "size": 8, "color": "#111111", "opacity": 1},
   "encoding": {"x": {"field": "x", "type": "quantitative"}, "y": {"field": "y", "type": "quantitative"}}},
  {"data": {"values": [{}]}, "mark": {"type": "point", "shape": "circle", "size": 26115, "filled": false, "stroke": "#ffffff", "strokeWidth": 14.4, "opacity": 1},
   "encoding": {"x": {"datum": 8.5, "type": "quantitative"}, "y": {"datum": 8.5, "type": "quantitative"}}},
  {"data": {"values": [{}]}, "mark": {"type": "point", "shape": "circle", "size": 21668, "filled": false, "stroke": "#111111", "strokeWidth": 1.3, "opacity": 1},
   "encoding": {"x": {"datum": 8.5, "type": "quantitative"}, "y": {"datum": 8.5, "type": "quantitative"}}},
  {"data": {"values": [{}]}, "mark": {"type": "point", "shape": "M-1,0.5L0,-0.45L1,0.5", "size": 676, "filled": false, "stroke": "#111111", "strokeWidth": 1.2, "opacity": 1},
   "encoding": {"x": {"datum": 8.5, "type": "quantitative"}, "y": {"datum": -0.03, "type": "quantitative"}}},
  {"data": {"values": [{}]}, "mark": {"type": "point", "shape": "M0.3,-0.85C0.1,-1,-0.3,-1,-0.3,-0.7L-0.25,0.6C-0.25,1,0.1,1,0.3,0.85", "size": 1089, "filled": false, "stroke": "#111111", "strokeWidth": 1.1, "opacity": 1},
   "encoding": {"x": {"datum": -0.09, "type": "quantitative"}, "y": {"datum": 8.8, "type": "quantitative"}}},
  {"data": {"values": [{}]}, "mark": {"type": "point", "shape": "M-0.3,-0.85C-0.1,-1,0.3,-1,0.3,-0.7L0.25,0.6C0.25,1,-0.1,1,-0.3,0.85", "size": 1089, "filled": false, "stroke": "#111111", "strokeWidth": 1.1, "opacity": 1},
   "encoding": {"x": {"datum": 17.09, "type": "quantitative"}, "y": {"datum": 8.8, "type": "quantitative"}}}
 ]},
{"width": 10, "height": 208, "data": {"name": "cbar"}, "mark": {"type": "rect"},
 "encoding": {"y": {"field": "lo", "type": "quantitative", "scale": {"domain": [-5.19, 7.73], "nice": false, "zero": false},
   "axis": {"orient": "right", "values": [-5, 0, 5], "labelExpr": "'' + datum.value", "ticks": false, "domain": false, "grid": false, "labelPadding": 4, "labelFont": "Liberation Serif", "labelFontSize": 16, "labelColor": "#222222", "title": "T-value", "titleFont": "Liberation Serif", "titleFontSize": 19, "titleFontWeight": "normal", "titleColor": "#222222", "titleAngle": 270, "titleX": 28, "titleY": 122, "titleBaseline": "bottom", "titleAlign": "center"}},
  "y2": {"field": "hi"},
  "color": {"field": "c", "type": "quantitative", "legend": null}}}
],
"spacing": 0, "bounds": "flush"
}
],
"spacing": 10, "bounds": "flush",
"resolve": {"scale": {"stroke": "independent"}, "legend": {"stroke": "independent"}}
}
],
"spacing": -6,
"resolve": {"scale": {"stroke": "independent"}, "legend": {"stroke": "independent"}}
}
